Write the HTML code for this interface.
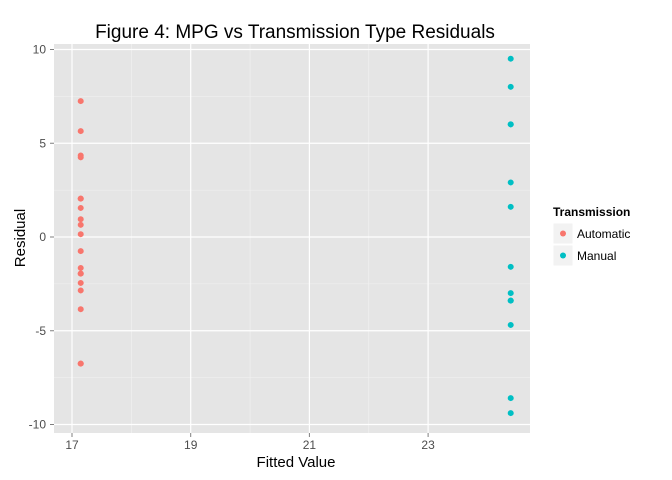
<!DOCTYPE html>
<html><head><meta charset="utf-8"><style>
body{margin:0;background:#fff;}
svg{font-family:"Liberation Sans",sans-serif;display:block}
</style></head><body>
<svg id="c" width="672" height="480"></svg>
<script>
const autoResiduals=[4.25,1.55,0.95,-2.85,7.25,5.65,2.05,0.65,-0.75,0.15,-1.95,-6.75,-6.75,-2.45,4.35,-1.65,-1.95,-3.85,2.05];
const manualResiduals=[-3.39,-3.39,-1.59,8.01,6.01,9.51,2.91,1.61,6.01,-8.59,-4.69,-9.39,-2.99];
const fittedValues=[17.147,24.392];
const xTicks=[17,19,21,23];
const yTicks=[10,5,0,-5,-10];
const seriesNames=["Automatic","Manual"];
const colors=["#F8766D","#00BFC4"];
const svg=document.getElementById('c');
const NS="http://www.w3.org/2000/svg";
const L=54,R=530,T=44,B=433;
const xs=v=>72+(v-17)*59.35;
const ys=v=>237-v*18.75;
function mk(tag,attrs,txt){const e=document.createElementNS(NS,tag);for(const k in attrs)e.setAttribute(k,attrs[k]);if(txt!==undefined)e.textContent=txt;svg.appendChild(e);return e;}
let e=mk('rect',{x:L,y:T,width:R-L,height:B-T,fill:'#E5E5E5'});


for(let i=0;i<xTicks.length-1;i++){const m=(xTicks[i]+xTicks[i+1])/2;mk('line',{x1:xs(m),x2:xs(m),y1:T,y2:B,stroke:'#F2F2F2','stroke-width':0.6});}
for(let i=0;i<yTicks.length-1;i++){const m=(yTicks[i]+yTicks[i+1])/2;mk('line',{x1:L,x2:R,y1:ys(m),y2:ys(m),stroke:'#F2F2F2','stroke-width':0.6});}
xTicks.forEach(t=>{mk('line',{x1:xs(t),x2:xs(t),y1:T,y2:B,stroke:'#fff','stroke-width':1.2});
e=mk('text',{x:xs(t),y:B+16,'text-anchor':'middle','font-size':12,fill:'#4D4D4D'},t);


mk('line',{x1:xs(t),x2:xs(t),y1:B,y2:B+4,stroke:'#7F7F7F'});});
yTicks.forEach(t=>{mk('line',{x1:L,x2:R,y1:ys(t),y2:ys(t),stroke:'#fff','stroke-width':1.2});
e=mk('text',{x:L-8,y:ys(t)+4,'text-anchor':'end','font-size':12,fill:'#4D4D4D'},t);


mk('line',{x1:L-4,x2:L,y1:ys(t),y2:ys(t),stroke:'#7F7F7F'});});
[autoResiduals,manualResiduals].forEach((arr,si)=>{arr.forEach(r=>{
e=mk('circle',{cx:xs(fittedValues[si]),cy:ys(r),r:3,fill:colors[si]});

});});
e=mk('text',{x:295,y:38,'text-anchor':'middle','font-size':19,fill:'#000'},'Figure 4: MPG vs Transmission Type Residuals');


e=mk('text',{x:296,y:467,'text-anchor':'middle','font-size':15,fill:'#000'},'Fitted Value');


e=mk('text',{x:0,y:0,'text-anchor':'middle','font-size':15,fill:'#000',transform:'translate(25,238) rotate(-90)'},'Residual');


e=mk('text',{x:553,y:216,'font-size':12,'font-weight':'bold',fill:'#000'},'Transmission');


seriesNames.forEach((n,i)=>{const y=223+i*22;
mk('rect',{x:553,y:y,width:20,height:21,fill:'#F2F2F2',stroke:'#fff'});
mk('circle',{cx:563,cy:y+10.5,r:3,fill:colors[i]});
e=mk('text',{x:577,y:y+15,'font-size':12,fill:'#000'},n);

});
</script>
</body></html>
